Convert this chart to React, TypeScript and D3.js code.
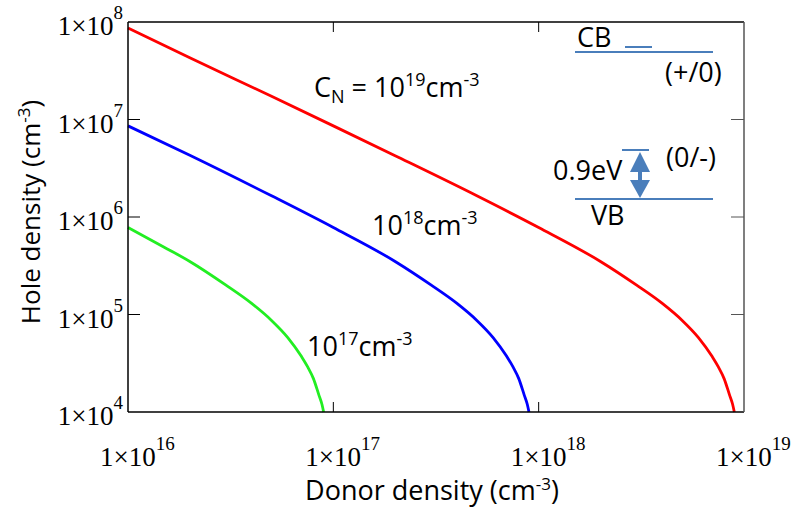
import React from 'react';
import * as d3 from 'd3';

// donor density (cm^-3) and hole density (cm^-3)
const donorC19 = [1e16, 2e16, 5e16, 1e17, 2e17, 5e17, 1e18, 2e18, 3e18, 4e18, 5e18, 6e18, 7e18, 7.5e18, 8e18, 8.5e18, 8.8e18, 8.97e18];
const holeC19 = [8.7e7, 4.3e7, 1.73e7, 8.6e6, 4.25e6, 1.65e6, 7.8e5, 3.5e5, 2.0e5, 1.3e5, 8.7e4, 5.8e4, 3.7e4, 2.9e4, 2.2e4, 1.5e4, 1.2e4, 1.0e4];

const donorC18 = [1e16, 2e16, 5e16, 1e17, 2e17, 3e17, 4e17, 5e17, 6e17, 7e17, 7.5e17, 8e17, 8.5e17, 8.8e17, 8.97e17];
const holeC18 = [8.6e6, 4.3e6, 1.65e6, 7.8e5, 3.5e5, 2.0e5, 1.3e5, 8.7e4, 5.8e4, 3.7e4, 2.9e4, 2.2e4, 1.5e4, 1.2e4, 1.0e4];

const donorC17 = [1e16, 1.5e16, 2e16, 3e16, 4e16, 5e16, 6e16, 7e16, 7.5e16, 8e16, 8.5e16, 8.8e16, 8.97e16];
const holeC17 = [7.8e5, 4.9e5, 3.5e5, 2.0e5, 1.3e5, 8.7e4, 5.8e4, 3.7e4, 2.9e4, 2.2e4, 1.5e4, 1.2e4, 1.0e4];

const xTickExps = [16, 17, 18, 19];
const yTickExps = [4, 5, 6, 7, 8];

const series = [
    { donor: donorC19, hole: holeC19, color: '#ff0000' },
    { donor: donorC18, hole: holeC18, color: '#0000ff' },
    { donor: donorC17, hole: holeC17, color: '#22ee22' },
];

const W = 795;
const H = 515;
const margin = { top: 22, right: 51, bottom: 103, left: 128 };
const serif = '"Liberation Serif", "Times New Roman", serif';
const sans = '"Open Sans", "Noto Sans", sans-serif';
const insetBlue = '#4a7ebb';

const App: React.FC = () => {
    const x = d3.scaleLog().domain([1e16, 1e19]).range([margin.left, W - margin.right]);
    const y = d3.scaleLog().domain([1e4, 1e8]).range([H - margin.bottom, margin.top]);

    const line = d3.line<[number, number]>()
        .x(d => x(d[0]))
        .y(d => y(d[1]))
        .curve(d3.curveMonotoneX);

    const x0 = x.range()[0], x1 = x.range()[1];
    const y0 = y.range()[0], y1 = y.range()[1];

    return (
        <svg width={W} height={H} style={{ position: 'absolute', left: 0, top: 0, background: '#fff' }}>
            {/* curves */}
            {series.map((s, i) => (
                <path key={i}
                    d={line(s.donor.map((d, j) => [d, s.hole[j]] as [number, number])) || ''}
                    fill="none" stroke={s.color} strokeWidth={2.8} strokeLinejoin="round" />
            ))}

            {/* frame */}
            <line x1={x0} x2={x1} y1={y1} y2={y1} stroke="#000" strokeWidth={1.5} />
            <line x1={x0} x2={x0} y1={y1} y2={y0} stroke="#000" strokeWidth={1.5} />
            <line x1={x0} x2={x1} y1={y0} y2={y0} stroke="#000" strokeWidth={1.5} />
            <line x1={x1} x2={x1} y1={y1} y2={y0} stroke="#555" strokeWidth={1.5} />

            {/* ticks */}
            {yTickExps.slice(1, -1).map(e => (
                <g key={'yt' + e}>
                    <line x1={x0} x2={x0 + 12} y1={y(10 ** e)} y2={y(10 ** e)} stroke="#000" strokeWidth={1} />
                    <line x1={x1 - 13} x2={x1} y1={y(10 ** e)} y2={y(10 ** e)} stroke="#555" strokeWidth={1} />
                </g>
            ))}
            {xTickExps.slice(1, -1).map(e => (
                <g key={'xt' + e}>
                    <line x1={x(10 ** e)} x2={x(10 ** e)} y1={y0} y2={y0 - 10} stroke="#000" strokeWidth={1} />
                    <line x1={x(10 ** e)} x2={x(10 ** e)} y1={y1} y2={y1 + 10} stroke="#000" strokeWidth={1} />
                </g>
            ))}

            {/* tick labels */}
            {yTickExps.map(e => (
                <text key={'yl' + e} x={123} y={y(10 ** e) + 13} textAnchor="end"
                    fontFamily={serif} fontSize={27} fill="#000">
                    1×10<tspan dy={-16} fontSize={19}>{e}</tspan>
                </text>
            ))}
            {xTickExps.map(e => (
                <text key={'xl' + e} x={x(10 ** e) - 28} y={466}
                    fontFamily={serif} fontSize={27} fill="#000">
                    1×10<tspan dy={-16} fontSize={19}>{e}</tspan>
                </text>
            ))}

            {/* axis titles */}
            <text x={432} y={500} textAnchor="middle" fontFamily={sans} fontSize={27} fill="#000">
                Donor density (cm<tspan dy={-10} fontSize={17}>-3</tspan><tspan dy={10}>)</tspan>
            </text>
            <text transform="translate(40,212) rotate(-90)" textAnchor="middle" fontFamily={sans} fontSize={26} fill="#000">
                Hole density (cm<tspan dy={-10} fontSize={17}>-3</tspan><tspan dy={10}>)</tspan>
            </text>

            {/* curve annotations */}
            <text x={314} y={97} fontFamily={sans} fontSize={27} fill="#000">
                C<tspan dy={6} fontSize={18}>N</tspan>
                <tspan dy={-6}> = 10</tspan>
                <tspan dy={-11} fontSize={18}>19</tspan>
                <tspan dy={11}>cm</tspan>
                <tspan dy={-11} fontSize={18}>-3</tspan>
            </text>
            <text x={372} y={235} fontFamily={sans} fontSize={27} fill="#000">
                10<tspan dy={-11} fontSize={18}>18</tspan>
                <tspan dy={11}>cm</tspan>
                <tspan dy={-11} fontSize={18}>-3</tspan>
            </text>
            <text x={307} y={356} fontFamily={sans} fontSize={27} fill="#000">
                10<tspan dy={-11} fontSize={18}>17</tspan>
                <tspan dy={11}>cm</tspan>
                <tspan dy={-11} fontSize={18}>-3</tspan>
            </text>

            {/* band diagram inset */}
            <g fontFamily={sans} fontSize={27} fill="#000">
                <line x1={575} x2={713} y1={52} y2={52} stroke={insetBlue} strokeWidth={2} />
                <line x1={625} x2={652} y1={47} y2={47} stroke={insetBlue} strokeWidth={2} />
                <text x={577} y={47}>CB</text>
                <text x={665} y={82}>(+/0)</text>
                <line x1={622} x2={649} y1={150} y2={150} stroke={insetBlue} strokeWidth={2} />
                <line x1={575} x2={713} y1={199} y2={199} stroke={insetBlue} strokeWidth={2} />
                <line x1={640} x2={640} y1={170} y2={182} stroke={insetBlue} strokeWidth={4} />
                <path d="M640,152 L630,172 L650,172 Z" fill={insetBlue} />
                <path d="M630,180 L650,180 L640,198 Z" fill={insetBlue} />
                <text x={553} y={180}>0.9eV</text>
                <text x={666} y={167}>(0/-)</text>
                <text x={591} y={225}>VB</text>
            </g>
        </svg>
    );
};

export default App;
